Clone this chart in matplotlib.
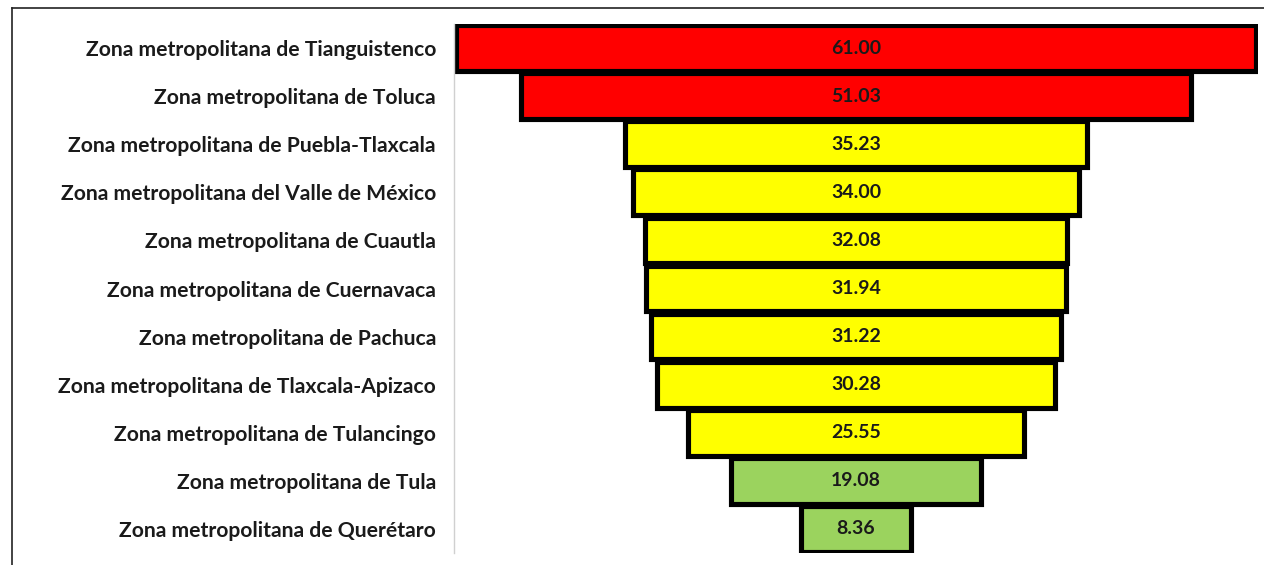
import matplotlib.pyplot as plt
from matplotlib.lines import Line2D

zonas = ['Zona metropolitana de Tianguistenco',
         'Zona metropolitana de Toluca',
         'Zona metropolitana de Puebla-Tlaxcala',
         'Zona metropolitana del Valle de México',
         'Zona metropolitana de Cuautla',
         'Zona metropolitana de Cuernavaca',
         'Zona metropolitana de Pachuca',
         'Zona metropolitana de Tlaxcala-Apizaco',
         'Zona metropolitana de Tulancingo',
         'Zona metropolitana de Tula',
         'Zona metropolitana de Querétaro']
valores = [61.00, 51.03, 35.23, 34.00, 32.08, 31.94, 31.22, 30.28, 25.55, 19.08, 8.36]
colores = ['#FF0000', '#FF0000', '#FFFF00', '#FFFF00', '#FFFF00', '#FFFF00',
           '#FFFF00', '#FFFF00', '#FFFF00', '#9BD35E', '#9BD35E']

fig = plt.figure(figsize=(12.64, 5.65), dpi=100)
ax = fig.add_axes([0.3592, 0.0212, 0.6361, 0.9363])

y = list(range(len(zonas)))
lefts = [-v / 2 for v in valores]
ax.barh(y, valores, left=lefts, height=0.95, color=colores,
        edgecolor='black', linewidth=3.7)

for yi, v in zip(y, valores):
    ax.text(0, yi, f'{v:.2f}', ha='center', va='center', fontsize=14,
            family='Lato', fontweight='bold', color='#1a1a1a')

ax.set_yticks(y)
ax.set_yticklabels(zonas, family='Lato', fontweight='bold',
                   fontsize=15.2, color='#1a1a1a')
ax.tick_params(axis='y', length=0, pad=13)
ax.set_xticks([])
ax.set_xlim(-30.62, 30.62)
ax.set_ylim(10.5, -0.5)
for s in ['top', 'right', 'bottom']:
    ax.spines[s].set_visible(False)
ax.spines['left'].set_color('#d0d0d0')
ax.spines['left'].set_linewidth(1)

# image border (left and top)
fig.add_artist(Line2D([12 / 1264, 12 / 1264], [0, 1 - 8 / 565],
                      color='#222222', linewidth=1.2, transform=fig.transFigure))
fig.add_artist(Line2D([12 / 1264, 1], [1 - 8 / 565, 1 - 8 / 565],
                      color='#222222', linewidth=1.2, transform=fig.transFigure))

fig.savefig('out.png', dpi=100)
